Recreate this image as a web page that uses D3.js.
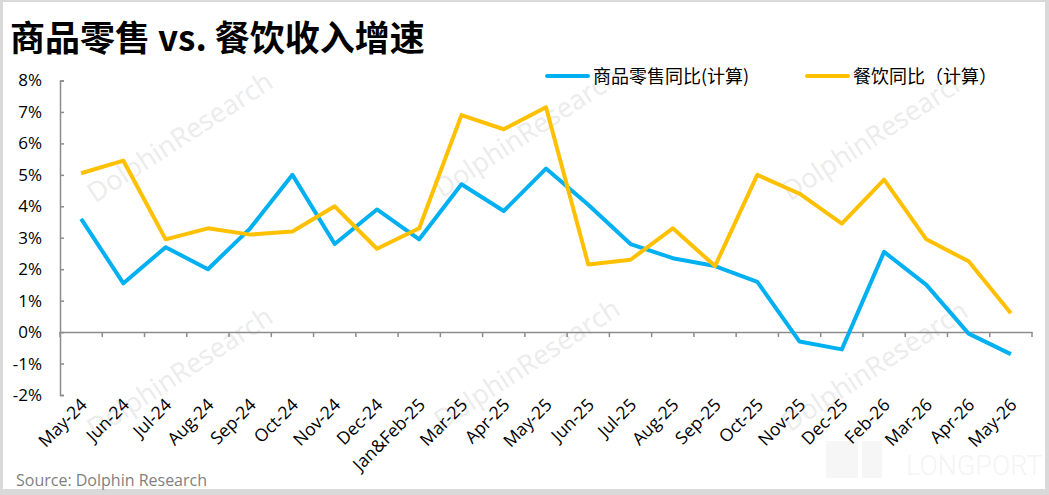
<!DOCTYPE html>
<html>
<head>
<meta charset="utf-8">
<script src="https://cdn.jsdelivr.net/npm/d3@7"></script>
<style>
  body { margin: 0; background: #fff; }
  svg { display: block; }
</style>
</head>
<body>
<svg width="1049" height="495"></svg>
<script>
// categories and series (%)
const months = ["May-24", "Jun-24", "Jul-24", "Aug-24", "Sep-24", "Oct-24", "Nov-24", "Dec-24",
  "Jan&Feb-25", "Mar-25", "Apr-25", "May-25", "Jun-25", "Jul-25", "Aug-25", "Sep-25",
  "Oct-25", "Nov-25", "Dec-25", "Feb-26", "Mar-26", "Apr-26", "May-26"];
const goods = [3.6, 1.55, 2.7, 2.0, 3.3, 5.0, 2.8, 3.9, 2.95, 4.7, 3.85, 5.2, 4.05, 2.8, 2.35,
  2.1, 1.6, -0.3, -0.55, 2.55, 1.5, -0.05, -0.7];
const catering = [5.05, 5.45, 2.95, 3.3, 3.1, 3.2, 4.0, 2.65, 3.3, 6.9, 6.45, 7.15, 2.15, 2.3, 3.3,
  2.1, 5.0, 4.4, 3.45, 4.85, 2.95, 2.25, 0.6];
const yTicks = [-2, -1, 0, 1, 2, 3, 4, 5, 6, 7, 8];
const seriesNames = ["商品零售同比(计算)", "餐饮同比（计算）"];
const colors = ["#00B0F0", "#FFC000"];

let svg = d3.select("svg");
const W = 1049, H = 495;

// frame
svg.append("rect").attr("width", W).attr("height", H).attr("fill", "#d9d9d9");
svg.append("rect").attr("x", 3).attr("y", 2).attr("width", W - 7).attr("height", H - 8).attr("fill", "#fff");

// watermarks
let wm = svg.append("g").attr("fill", "#ececec").attr("font-family", "Open Sans, sans-serif")
  .attr("font-size", 27);
[[185, 145], [532, 140], [880, 143], [185, 380], [532, 372], [880, 374]].forEach(function(p) {
  wm.append("text")
    .attr("transform", "translate(" + p[0] + "," + p[1] + ") rotate(-33)")
    .attr("text-anchor", "middle")
    .text("DolphinResearch");
});
svg.append("rect").attr("x", 826).attr("y", 441).attr("width", 32).attr("height", 37).attr("fill", "#f6f6f6");
svg.append("rect").attr("x", 862).attr("y", 441).attr("width", 20).attr("height", 37).attr("fill", "#f6f6f6");
svg.append("text").attr("x", 906).attr("y", 475)
  .attr("font-family", "Roboto, sans-serif").attr("font-weight", 300).attr("font-size", 27)
  .attr("fill", "#f4f4f4").text("LONGPORT");

// title
svg.append("text").attr("x", 10).attr("y", 51)
  .attr("font-family", "Noto Sans CJK SC, sans-serif").attr("font-weight", "bold")
  .attr("font-size", 35).attr("fill", "#000")
  .text("商品零售 vs. 餐饮收入增速");

// scales
let x = d3.scaleBand().domain(months).range([60, 1032]).padding(0);
let y = d3.scaleLinear().domain([-2, 8]).range([395, 80.5]);

// y axis
let yAxis = svg.append("g").attr("transform", "translate(60,0)")
  .call(d3.axisLeft(y).tickValues(yTicks).tickSize(-4).tickPadding(18)
    .tickFormat(function(d) { return d + "%"; }));
yAxis.select(".domain").attr("stroke", "#8c8c8c").attr("stroke-width", 1.5);
yAxis.selectAll(".tick line").attr("stroke", "#8c8c8c").attr("stroke-width", 1.5);
yAxis.selectAll(".tick text").attr("font-family", "Open Sans, sans-serif")
  .attr("font-size", 17).attr("fill", "#000");

// x axis at 0%
let xAxis = svg.append("g").attr("transform", "translate(0," + y(0) + ")")
  .call(d3.axisBottom(x).tickSize(0).tickFormat(""));
xAxis.select(".domain").attr("stroke", "#8c8c8c").attr("stroke-width", 1.5);
let bounds = months.map(function(m) { return x(m); }).concat([x.range()[1]]);
xAxis.selectAll(".bnd").data(bounds).enter().append("line")
  .attr("x1", function(d) { return d; }).attr("x2", function(d) { return d; })
  .attr("y1", 0).attr("y2", 5)
  .attr("stroke", "#8c8c8c").attr("stroke-width", 1.5);

// x labels, rotated
svg.append("g").selectAll("text").data(months).enter().append("text")
  .attr("transform", function(d) {
    return "translate(" + (x(d) + x.bandwidth() / 2 + 7) + ",406) rotate(-45)";
  })
  .attr("text-anchor", "end")
  .attr("font-family", "Open Sans, sans-serif").attr("font-size", 17.5).attr("fill", "#000")
  .text(function(d) { return d; });

// lines
let line = d3.line()
  .x(function(d, i) { return x(months[i]) + x.bandwidth() / 2; })
  .y(function(d) { return y(d); });

[goods, catering].forEach(function(s, k) {
  svg.append("path").datum(s)
    .attr("fill", "none").attr("stroke", colors[k]).attr("stroke-width", 4)
    .attr("stroke-linejoin", "round")
    .attr("d", line);
});

// legend
let legX = [547, 807];
seriesNames.forEach(function(n, k) {
  let g = svg.append("g").attr("transform", "translate(" + legX[k] + ",76)");
  g.append("line").attr("x1", 0).attr("x2", 41).attr("y1", 0).attr("y2", 0)
    .attr("stroke", colors[k]).attr("stroke-width", 4).attr("stroke-linecap", "round");
  g.append("text").attr("x", 46).attr("y", 6.5)
    .attr("font-family", "Noto Sans CJK SC, sans-serif").attr("font-size", 18).attr("fill", "#000")
    .text(n);
});

// source
svg.append("text").attr("x", 16).attr("y", 486)
  .attr("font-family", "Open Sans, sans-serif").attr("font-size", 16).attr("fill", "#7f7f7f")
  .text("Source: Dolphin Research");
</script>
</body>
</html>
